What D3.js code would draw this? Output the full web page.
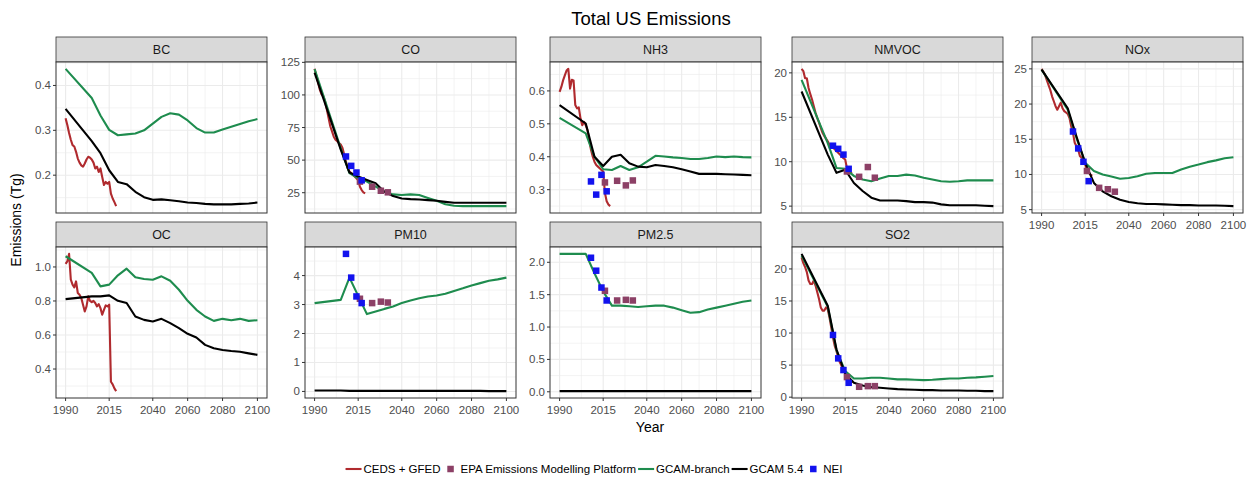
<!DOCTYPE html>
<html>
<head>
<meta charset="utf-8">
<script src="https://cdn.jsdelivr.net/npm/d3@7"></script>
<style>
  body { margin: 0; background: #fff; }
  svg { font-family: "Liberation Sans", Arial, sans-serif; }
</style>
</head>
<body>
<svg id="chart" width="1253" height="485"></svg>
<script>
// years
const cedsYears = [1990, 1991, 1992, 1993, 1994, 1995, 1996, 1997, 1998, 1999,
  2000, 2001, 2002, 2003, 2004, 2005, 2006, 2007, 2008, 2009,
  2010, 2011, 2012, 2013, 2014, 2015, 2016, 2017, 2018, 2019];
const gcamYears = [1990, 2005, 2010, 2015, 2020, 2025, 2030, 2035, 2040, 2045, 2050,
  2055, 2060, 2065, 2070, 2075, 2080, 2085, 2090, 2095, 2100];
const neiYears = [2008, 2011, 2014, 2017];
const epaYears = [2016, 2023, 2028, 2032];

// BC
const bcCeds = [0.327, 0.312, 0.294, 0.279, 0.267, 0.264, 0.252, 0.237, 0.228, 0.222, 0.219, 0.226, 0.235, 0.241, 0.239, 0.235, 0.228, 0.215, 0.219, 0.207, 0.215, 0.196, 0.178, 0.185, 0.181, 0.185, 0.159, 0.148, 0.140, 0.131];
const bcBranch = [0.437, 0.372, 0.333, 0.301, 0.289, 0.291, 0.293, 0.300, 0.315, 0.330, 0.338, 0.335, 0.322, 0.305, 0.295, 0.295, 0.302, 0.308, 0.314, 0.320, 0.325];
const bcGcam = [0.348, 0.276, 0.249, 0.211, 0.185, 0.180, 0.163, 0.151, 0.145, 0.146, 0.144, 0.142, 0.139, 0.138, 0.136, 0.135, 0.135, 0.135, 0.136, 0.137, 0.139];

// CO
const coCeds = [120, 114.7, 109.5, 104, 100.5, 99, 95, 89, 82.5, 76, 72, 68, 65.7, 64.4, 63.1, 61.9, 59.3, 54.1, 49, 43.8, 41.2, 40, 38.7, 37.4, 36, 34.8, 29.6, 27, 25.3, 24.5];
const coBranch = [119.8, 59, 40, 36, 33.5, 29.6, 25.8, 23.7, 23.2, 23.7, 23.2, 21, 18.8, 16.2, 15, 14.7, 14.7, 14.7, 14.7, 14.7, 14.7];
const coGcam = [117, 58, 40.5, 37.4, 34.8, 32.2, 25.8, 22.4, 20.6, 20.1, 19.8, 19.3, 18.8, 18, 17.3, 17.3, 17.3, 17.3, 17.3, 17.3, 17.3];
const coNei = [52.8, 45.6, 40.5, 34.5];
const coEpa = [33.5, 29.6, 26.5, 25.3];

// NH3
const nh3Ceds = [0.597, 0.612, 0.632, 0.647, 0.662, 0.667, 0.607, 0.634, 0.632, 0.557, 0.547, 0.550, 0.516, 0.496, 0.506, 0.496, 0.481, 0.451, 0.421, 0.401, 0.385, 0.375, 0.370, 0.365, 0.360, 0.355, 0.290, 0.265, 0.255, 0.250];
const nh3Branch = [0.518, 0.471, 0.400, 0.362, 0.360, 0.372, 0.360, 0.368, 0.385, 0.403, 0.401, 0.398, 0.396, 0.393, 0.393, 0.396, 0.401, 0.399, 0.401, 0.399, 0.398];
const nh3Gcam = [0.557, 0.501, 0.400, 0.372, 0.400, 0.406, 0.380, 0.370, 0.368, 0.375, 0.372, 0.368, 0.362, 0.355, 0.348, 0.348, 0.348, 0.347, 0.346, 0.345, 0.344];
const nh3Nei = [0.325, 0.285, 0.345, 0.295];
const nh3Epa = [0.322, 0.327, 0.313, 0.328];

// NMVOC
const nmvocCeds = [20.45, 20.2, 19.4, 19.4, 18.3, 17.6, 17.0, 16.25, 15.5, 14.9, 14.4, 13.8, 13.25, 12.9, 12.6, 12.3, 11.9, 11.75, 11.6, 11.4, 11.2, 11.0, 10.8, 10.6, 10.4, 10.25, 9.3, 8.9, 8.75, 8.7];
const nmvocBranch = [19.2, 12.1, 9.3, 9.2, 8.4, 8.0, 7.8, 8.1, 8.4, 8.4, 8.55, 8.45, 8.2, 8.0, 7.8, 7.74, 7.8, 7.9, 7.9, 7.9, 7.9];
const nmvocGcam = [17.9, 10.8, 8.75, 9.1, 7.6, 6.7, 5.95, 5.64, 5.64, 5.64, 5.56, 5.45, 5.45, 5.4, 5.2, 5.1, 5.1, 5.1, 5.1, 5.05, 5.0];
const nmvocNei = [11.8, 11.45, 10.8, 9.2];
const nmvocEpa = [8.9, 8.3, 9.4, 8.2];

// NOx
const noxCeds = [25.0, 24.6, 24.15, 23.4, 22.7, 22.0, 21.1, 20.4, 19.7, 19.2, 19.7, 20.2, 19.4, 19.0, 18.8, 18.6, 18.0, 16.8, 15.9, 14.5, 14.0, 13.5, 12.6, 12.4, 12.0, 11.4, 10.7, 10.2, 10.0, 9.8];
const noxBranch = [24.9, 19.2, 15.2, 11.65, 10.5, 10.0, 9.7, 9.4, 9.5, 9.75, 10.1, 10.2, 10.2, 10.2, 10.7, 11.1, 11.4, 11.75, 12.0, 12.3, 12.45];
const noxGcam = [24.9, 19.4, 15.4, 11.65, 8.8, 7.6, 6.9, 6.4, 6.1, 5.9, 5.8, 5.8, 5.75, 5.7, 5.65, 5.65, 5.6, 5.6, 5.6, 5.55, 5.5];
const noxNei = [16.1, 13.7, 11.8, 9.05];
const noxEpa = [10.5, 8.1, 7.9, 7.55];

// OC
const ocCeds = [1.018, 1.033, 1.077, 0.925, 0.896, 0.880, 0.915, 0.847, 0.837, 0.817, 0.778, 0.738, 0.768, 0.827, 0.801, 0.793, 0.801, 0.788, 0.768, 0.782, 0.758, 0.719, 0.748, 0.774, 0.768, 0.778, 0.325, 0.310, 0.286, 0.270];
const ocBranch = [1.063, 0.965, 0.886, 0.896, 0.951, 0.990, 0.939, 0.929, 0.925, 0.945, 0.919, 0.866, 0.801, 0.748, 0.709, 0.683, 0.695, 0.687, 0.695, 0.683, 0.687];
const ocGcam = [0.811, 0.827, 0.827, 0.833, 0.801, 0.788, 0.709, 0.689, 0.679, 0.695, 0.670, 0.640, 0.607, 0.585, 0.542, 0.522, 0.512, 0.506, 0.502, 0.492, 0.483];

// PM10
const pm10Branch = [3.05, 3.16, 3.93, 3.30, 2.67, 2.76, 2.85, 2.93, 3.05, 3.14, 3.22, 3.28, 3.31, 3.37, 3.47, 3.56, 3.66, 3.74, 3.82, 3.87, 3.93];
const pm10Gcam = [0.03, 0.03, 0.02, 0.02, 0.02, 0.02, 0.02, 0.02, 0.02, 0.02, 0.02, 0.02, 0.02, 0.02, 0.02, 0.02, 0.02, 0.02, 0.01, 0.01, 0.01];
const pm10Nei = [4.75, 3.93, 3.28, 3.05];
const pm10Epa = [3.2, 3.05, 3.1, 3.07];

// PM2.5
const pm25Branch = [2.13, 2.13, 1.83, 1.55, 1.33, 1.33, 1.32, 1.31, 1.32, 1.33, 1.33, 1.30, 1.26, 1.22, 1.23, 1.27, 1.30, 1.33, 1.36, 1.39, 1.41];
const pm25Gcam = [0.01, 0.01, 0.01, 0.01, 0.01, 0.01, 0.01, 0.01, 0.01, 0.01, 0.01, 0.01, 0.01, 0.01, 0.01, 0.01, 0.01, 0.01, 0.01, 0.01, 0.01];
const pm25Nei = [2.07, 1.87, 1.61, 1.41];
const pm25Epa = [1.56, 1.41, 1.42, 1.41];

// SO2
const so2Ceds = [21.8, 20.9, 20.3, 19.5, 18.2, 17.65, 17.65, 18.2, 17.4, 16.35, 15.3, 14.0, 13.5, 13.5, 14.0, 13.7, 12.4, 10.9, 9.3, 8.0, 7.2, 6.2, 5.4, 4.85, 4.3, 3.65, 3.1, 2.75, 2.5, 2.2];
const so2Branch = [22.1, 14.1, 7.3, 4.07, 2.92, 2.92, 3.03, 3.03, 2.92, 2.77, 2.77, 2.72, 2.66, 2.72, 2.82, 2.92, 2.92, 3.03, 3.08, 3.19, 3.29];
const so2Gcam = [22.35, 14.25, 7.47, 3.65, 2.24, 1.83, 1.57, 1.46, 1.36, 1.25, 1.2, 1.15, 1.1, 1.1, 1.05, 1.05, 1.05, 1.0, 1.0, 0.94, 0.94];
const so2Nei = [9.7, 6.05, 4.23, 2.24];
const so2Epa = [3.13, 1.62, 1.72, 1.72];

// axis ticks
const xTicks = [1990, 2015, 2040, 2060, 2080, 2100];
const bcTicks = [0.2, 0.3, 0.4];
const coTicks = [25, 50, 75, 100, 125];
const nh3Ticks = [0.3, 0.4, 0.5, 0.6];
const nmvocTicks = [5, 10, 15, 20];
const noxTicks = [5, 10, 15, 20, 25];
const ocTicks = [0.4, 0.6, 0.8, 1.0];
const pm10Ticks = [0, 1, 2, 3, 4];
const pm25Ticks = [0, 0.5, 1, 1.5, 2];
const so2Ticks = [0, 5, 10, 15, 20];

const panels = [
  { name: "BC", ceds: bcCeds, branch: bcBranch, gcam: bcGcam, ticks: bcTicks, fmt: ".1f" },
  { name: "CO", ceds: coCeds, branch: coBranch, gcam: coGcam, nei: coNei, epa: coEpa, ticks: coTicks, fmt: "d" },
  { name: "NH3", ceds: nh3Ceds, branch: nh3Branch, gcam: nh3Gcam, nei: nh3Nei, epa: nh3Epa, ticks: nh3Ticks, fmt: ".1f" },
  { name: "NMVOC", ceds: nmvocCeds, branch: nmvocBranch, gcam: nmvocGcam, nei: nmvocNei, epa: nmvocEpa, ticks: nmvocTicks, fmt: "d" },
  { name: "NOx", ceds: noxCeds, branch: noxBranch, gcam: noxGcam, nei: noxNei, epa: noxEpa, ticks: noxTicks, fmt: "d" },
  { name: "OC", ceds: ocCeds, branch: ocBranch, gcam: ocGcam, ticks: ocTicks, fmt: ".1f" },
  { name: "PM10", branch: pm10Branch, gcam: pm10Gcam, nei: pm10Nei, epa: pm10Epa, ticks: pm10Ticks, fmt: "d" },
  { name: "PM2.5", branch: pm25Branch, gcam: pm25Gcam, nei: pm25Nei, epa: pm25Epa, ticks: pm25Ticks, fmt: ".1f" },
  { name: "SO2", ceds: so2Ceds, branch: so2Branch, gcam: so2Gcam, nei: so2Nei, epa: so2Epa, ticks: so2Ticks, fmt: "d" }
];

const COLORS = { ceds: "#B02A2E", epa: "#8C4066", branch: "#1E8C4E", gcam: "#000000", nei: "#1212EE" };

const COL_X = [56, 305, 550, 792, 1032];
const ROW_Y = [37, 222];
const PANEL_W = 211, STRIP_H = 25, PLOT_H = 151;
const GRID = "#EBEBEB", DARK = "#333333";

const svg = d3.select("#chart");

svg.append("text")
  .attr("x", 651).attr("y", 25)
  .attr("text-anchor", "middle")
  .attr("font-size", "18.5px").attr("fill", "#000")
  .text("Total US Emissions");

const x = d3.scaleLinear().domain([1984.5, 2105.5]).range([0, PANEL_W]);
const xMinor = xTicks.slice(1).map((t, i) => (t + xTicks[i]) / 2);

panels.forEach((p, i) => {
  const row = i < 5 ? 0 : 1, col = i % 5;
  const g = svg.append("g")
    .attr("transform", `translate(${COL_X[col]},${ROW_Y[row] + STRIP_H})`);

  // y domain: data range + 5% expansion (ggplot style)
  const all = [].concat(p.ceds || [], p.branch || [], p.gcam || [], p.nei || [], p.epa || []);
  const [lo, hi] = d3.extent(all);
  const pad = (hi - lo) * 0.05;
  const y = d3.scaleLinear().domain([lo - pad, hi + pad]).range([PLOT_H, 0]);

  const step = p.ticks[1] - p.ticks[0];
  const yMinor = [];
  for (let v = p.ticks[0] - step / 2; v <= hi + pad; v += step) {
    if (v >= lo - pad) yMinor.push(v);
  }

  // strip
  g.append("rect")
    .attr("x", 0).attr("y", -STRIP_H).attr("width", PANEL_W).attr("height", STRIP_H)
    .attr("fill", "#D9D9D9").attr("stroke", DARK).attr("stroke-width", 0.8);
  g.append("text")
    .attr("x", PANEL_W / 2).attr("y", -STRIP_H / 2 + 4.5)
    .attr("text-anchor", "middle").attr("font-size", "12.5px").attr("fill", "#1A1A1A")
    .text(p.name);

  g.append("rect").attr("width", PANEL_W).attr("height", PLOT_H).attr("fill", "#fff");

  // grid
  g.selectAll(".xminor").data(xMinor).join("line")
    .attr("x1", d => x(d)).attr("x2", d => x(d)).attr("y1", 0).attr("y2", PLOT_H)
    .attr("stroke", GRID).attr("stroke-width", 0.6);
  g.selectAll(".yminor").data(yMinor).join("line")
    .attr("x1", 0).attr("x2", PANEL_W).attr("y1", d => y(d)).attr("y2", d => y(d))
    .attr("stroke", GRID).attr("stroke-width", 0.6);
  g.selectAll(".xmajor").data(xTicks).join("line")
    .attr("x1", d => x(d)).attr("x2", d => x(d)).attr("y1", 0).attr("y2", PLOT_H)
    .attr("stroke", GRID).attr("stroke-width", 1.1);
  g.selectAll(".ymajor").data(p.ticks).join("line")
    .attr("x1", 0).attr("x2", PANEL_W).attr("y1", d => y(d)).attr("y2", d => y(d))
    .attr("stroke", GRID).attr("stroke-width", 1.1);

  // lines
  const line = d3.line().x(d => x(d[0])).y(d => y(d[1]));
  [["ceds", cedsYears], ["branch", gcamYears], ["gcam", gcamYears]].forEach(([key, yrs]) => {
    if (!p[key]) return;
    g.append("path")
      .datum(yrs.map((yr, j) => [yr, p[key][j]]))
      .attr("d", line)
      .attr("fill", "none").attr("stroke", COLORS[key])
      .attr("stroke-width", 2.1).attr("stroke-linejoin", "round");
  });

  // points
  const S = 6.5;
  [["epa", epaYears], ["nei", neiYears]].forEach(([key, yrs]) => {
    if (!p[key]) return;
    g.selectAll(".pt-" + key).data(yrs.map((yr, j) => [yr, p[key][j]])).join("rect")
      .attr("x", d => x(d[0]) - S / 2).attr("y", d => y(d[1]) - S / 2)
      .attr("width", S).attr("height", S)
      .attr("fill", COLORS[key]);
  });

  // border
  g.append("rect").attr("width", PANEL_W).attr("height", PLOT_H)
    .attr("fill", "none").attr("stroke", DARK).attr("stroke-width", 1);

  // y axis
  const fmt = d3.format(p.fmt);
  g.selectAll(".ytick").data(p.ticks).join("line")
    .attr("x1", -3).attr("x2", 0).attr("y1", d => y(d)).attr("y2", d => y(d))
    .attr("stroke", DARK).attr("stroke-width", 1);
  g.selectAll(".ylab").data(p.ticks).join("text")
    .attr("x", -5).attr("y", d => y(d)).attr("dy", "0.35em")
    .attr("text-anchor", "end").attr("font-size", "11.5px").attr("fill", "#4D4D4D")
    .text(d => fmt(d));

  // x axis on bottom panels of each column
  if (row === 1 || col === 4) {
    g.selectAll(".xtick").data(xTicks).join("line")
      .attr("x1", d => x(d)).attr("x2", d => x(d)).attr("y1", PLOT_H).attr("y2", PLOT_H + 3)
      .attr("stroke", DARK).attr("stroke-width", 1);
    g.selectAll(".xlab").data(xTicks).join("text")
      .attr("x", d => x(d)).attr("y", PLOT_H + 16)
      .attr("text-anchor", "middle").attr("font-size", "11.5px").attr("fill", "#4D4D4D")
      .text(d => d);
  }
});

// axis titles
svg.append("text")
  .attr("transform", "translate(21,220) rotate(-90)")
  .attr("text-anchor", "middle").attr("font-size", "14px").attr("fill", "#000")
  .text("Emissions (Tg)");
svg.append("text")
  .attr("x", 650).attr("y", 432)
  .attr("text-anchor", "middle").attr("font-size", "14px").attr("fill", "#000")
  .text("Year");

// legend
const legendItems = [
  { key: "ceds", type: "line", label: "CEDS + GFED" },
  { key: "epa", type: "square", label: "EPA Emissions Modelling Platform" },
  { key: "branch", type: "line", label: "GCAM-branch" },
  { key: "gcam", type: "line", label: "GCAM 5.4" },
  { key: "nei", type: "square", label: "NEI" }
];
const legend = svg.append("g");
let cx = 0;
legendItems.forEach(item => {
  if (item.type === "line") {
    legend.append("line")
      .attr("x1", cx).attr("x2", cx + 16).attr("y1", 0).attr("y2", 0)
      .attr("stroke", COLORS[item.key]).attr("stroke-width", 2.1);
  } else {
    legend.append("rect")
      .attr("x", cx + 8 - 3.25).attr("y", -3.25).attr("width", 6.5).attr("height", 6.5)
      .attr("fill", COLORS[item.key]);
  }
  const t = legend.append("text")
    .attr("x", cx + 18).attr("y", 0).attr("dy", "0.35em")
    .attr("font-size", "11.5px").attr("fill", "#000")
    .text(item.label);
  cx += 18 + t.node().getComputedTextLength() + 2;
});
legend.attr("transform", `translate(${595 - cx / 2},469)`);
</script>
</body>
</html>
